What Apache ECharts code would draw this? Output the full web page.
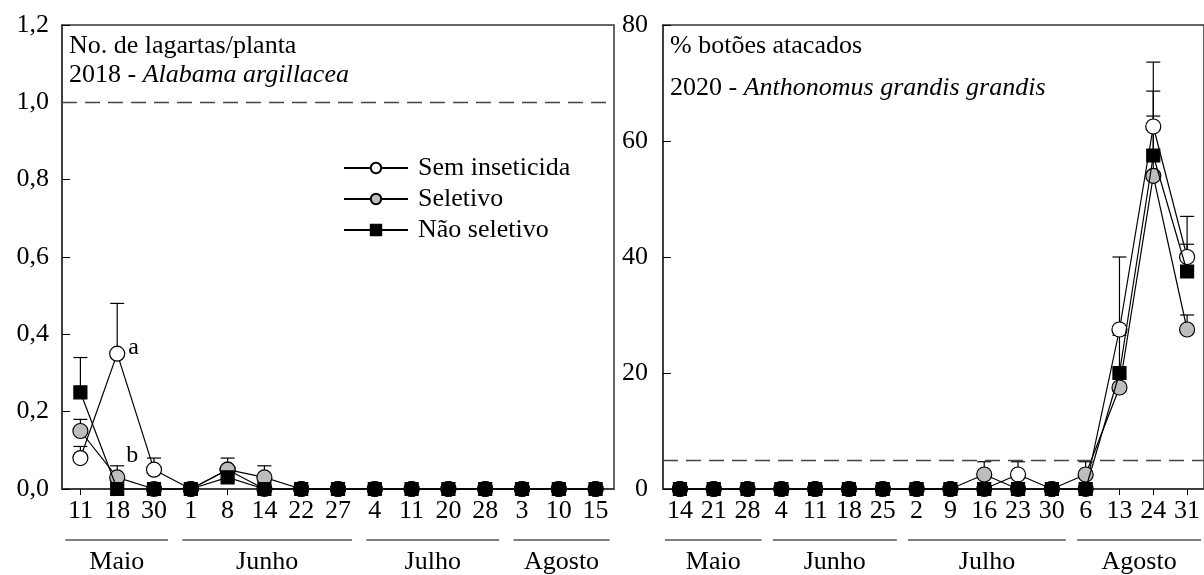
<!DOCTYPE html>
<html><head><meta charset="utf-8">
<script src="https://cdn.jsdelivr.net/npm/echarts@6/dist/echarts.min.js"></script>
<style>html,body{margin:0;padding:0;background:#fff}#c{width:1204px;height:575px}</style>
</head><body><div id="c"></div>
<script>
const FONT = '"Liberation Serif","Times New Roman",serif';
const FS = 26;

// ---- Left panel (2018 - Alabama argillacea) ----
const leftDays = ['11','18','30','1','8','14','22','27','4','11','20','28','3','10','15'];
const leftMonths = ['Maio','Junho','Julho','Agosto'];
const leftMonthSpans = [[0,2],[3,7],[8,11],[12,14]];
const leftSem = [0.08,0.35,0.05,0,0.05,0,0,0,0,0,0,0,0,0,0];
const leftSel = [0.15,0.03,0,0,0.05,0.03,0,0,0,0,0,0,0,0,0];
const leftNS  = [0.25,0,0,0,0.03,0,0,0,0,0,0,0,0,0,0];
const leftSemErr = [0.11,0.48,0.08,null,0.08,null,null,null,null,null,null,null,null,null,null];
const leftSelErr = [0.18,0.06,null,null,null,0.06,null,null,null,null,null,null,null,null,null];
const leftNSErr  = [0.34,null,null,null,null,null,null,null,null,null,null,null,null,null,null];
const leftTicks = ['0,0','0,2','0,4','0,6','0,8','1,0','1,2'];
const leftThreshold = 1.0;
const leftAnnot = {sem: {1: 'a'}, sel: {1: 'b'}};

// ---- Right panel (2020 - Anthonomus grandis grandis) ----
const rightDays = ['14','21','28','4','11','18','25','2','9','16','23','30','6','13','24','31'];
const rightMonths = ['Maio','Junho','Julho','Agosto'];
const rightMonthSpans = [[0,2],[3,6],[7,11],[12,15]];
const rightSem = [0,0,0,0,0,0,0,0,0,0,2.5,0,0,27.5,62.5,40];
const rightSel = [0,0,0,0,0,0,0,0,0,2.5,0,0,2.5,17.5,54,27.5];
const rightNS  = [0,0,0,0,0,0,0,0,0,0,0,0,0,20,57.5,37.5];
const rightSemErr = [null,null,null,null,null,null,null,null,null,null,4.7,null,null,40,73.6,47];
const rightSelErr = [null,null,null,null,null,null,null,null,null,4.7,null,null,4.7,null,64.3,30];
const rightNSErr  = [null,null,null,null,null,null,null,null,null,null,null,null,null,26.5,68.6,42.2];
const rightThreshold = 5;

const names = ['Sem inseticida','Seletivo','Não seletivo'];
const styles = [
  {symbol:'circle', symbolSize:15, color:'#ffffff'},
  {symbol:'circle', symbolSize:15, color:'#bdbdbd'},
  {symbol:'rect', symbolSize:13, color:'#000000'}
];

function errRender(params, api){
  const x = api.value(0), v = api.value(1), up = api.value(2);
  const p0 = api.coord([x, v]); const p1 = api.coord([x, up]);
  const hw = 7;
  return {type:'group', children:[
    {type:'line', shape:{x1:p0[0],y1:p0[1],x2:p1[0],y2:p1[1]}, style:{stroke:'#000', lineWidth:1.2}},
    {type:'line', shape:{x1:p1[0]-hw,y1:p1[1],x2:p1[0]+hw,y2:p1[1]}, style:{stroke:'#000', lineWidth:1.2}}
  ]};
}
function errData(vals, errs){
  const out = [];
  errs.forEach((e,i)=>{ if(e!==null) out.push([i, vals[i], e]); });
  return out;
}
function withAnnot(vals, annot){
  return vals.map((v,i)=> annot && annot[i] ? {value:v, label:{show:true, formatter:annot[i], position:'right',
    offset: annot[i]==='b' ? [-4,-22] : [-2,-6], fontFamily:FONT, fontSize:FS-2, color:'#000'}} : v);
}

function panelSeries(axisIdx, vals, errs, thr, annots){
  const s = [];
  vals.forEach((v,k)=>{
    s.push({type:'custom', name:'err'+axisIdx+k, xAxisIndex:axisIdx, yAxisIndex:axisIdx, renderItem:errRender,
      data: errData(v, errs[k]), encode:{x:0, y:[1,2]}, z:1, silent:true});
  });
  vals.forEach((v,k)=>{
    const st = styles[k];
    const ser = {type:'line', name:names[k], xAxisIndex:axisIdx, yAxisIndex:axisIdx,
      data: withAnnot(v, annots ? annots[k] : null), symbol:st.symbol, symbolSize:st.symbolSize,
      itemStyle:{color:st.color, borderColor:'#000', borderWidth:1.2, opacity:1},
      lineStyle:{color:'#000', width:1.2}, z:2 + k, clip:false};
    if(k===0){
      ser.markLine = {silent:true, symbol:'none', label:{show:false},
        lineStyle:{color:'#444', type:[15,8], width:1.3}, data:[{yAxis:thr}]};
    }
    s.push(ser);
  });
  return s;
}

const axisTextStyle = {fontFamily:FONT, fontSize:FS, color:'#000'};
function xAx(gi, days){
  return {type:'category', gridIndex:gi, data:days, boundaryGap:true,
    axisLine:{show:true, lineStyle:{color:'#333', width:1.5}},
    axisTick:{show:true, alignWithLabel:true, inside:false, length:6, lineStyle:{color:'#000'}},
    axisLabel:{interval:0, margin:9, ...axisTextStyle}, splitLine:{show:false}};
}
const titleStyle = {fontFamily:FONT, fontSize:FS, fontWeight:'normal', color:'#000'};
const richStyle = {rich:{n:{fontFamily:FONT, fontSize:FS, fontWeight:'normal', color:'#000'},
  i:{fontFamily:FONT, fontSize:FS, fontWeight:'normal', fontStyle:'italic', color:'#000'}}};

const chart = echarts.init(document.getElementById('c'), null, {renderer:'canvas'});
const option = {
  animation:false,
  backgroundColor:'#fff',
  title:[
    {left:69, top:33, padding:0, text:'No. de lagartas/planta', textStyle:titleStyle},
    {left:69, top:62, padding:0, text:'{n|2018 - }{i|Alabama argillacea}', textStyle:richStyle},
    {left:670, top:33, padding:0, text:'% botões atacados', textStyle:titleStyle},
    {left:670, top:75, padding:0, text:'{n|2020 - }{i|Anthonomus grandis grandis}', textStyle:richStyle}
  ],
  legend:{data:names, orient:'vertical', left:338, top:150, itemWidth:64, itemHeight:13, itemGap:5,
    textStyle:{fontFamily:FONT, fontSize:FS, color:'#000', padding:[0,0,0,5]}, selectedMode:false},
  grid:[
    {left:62, top:25, width:552, height:464, show:true, borderColor:'#333', borderWidth:1.5, backgroundColor:'transparent'},
    {left:663, top:25, width:557, height:464, show:true, borderColor:'#333', borderWidth:1.5, backgroundColor:'transparent'}
  ],
  xAxis:[xAx(0,leftDays), xAx(1,rightDays)],
  yAxis:[
    {type:'value', gridIndex:0, min:0, max:1.2, interval:0.2,
      axisLine:{show:true, lineStyle:{color:'#333', width:1.5}},
      axisTick:{show:true, inside:true, length:8, lineStyle:{color:'#000'}},
      axisLabel:{margin:13, ...axisTextStyle, formatter:(v)=>leftTicks[Math.round(v/0.2)]}, splitLine:{show:false}},
    {type:'value', gridIndex:1, min:0, max:80, interval:20,
      axisLine:{show:true, lineStyle:{color:'#333', width:1.5}},
      axisTick:{show:true, inside:true, length:8, lineStyle:{color:'#000'}},
      axisLabel:{margin:15, ...axisTextStyle}, splitLine:{show:false}}
  ],
  series:[
    ...panelSeries(0, [leftSem,leftSel,leftNS], [leftSemErr,leftSelErr,leftNSErr], leftThreshold, [leftAnnot.sem, leftAnnot.sel, null]),
    ...panelSeries(1, [rightSem,rightSel,rightNS], [rightSemErr,rightSelErr,rightNSErr], rightThreshold, null)
  ]
};
chart.setOption(option);

function monthGraphics(axisIdx, days, months, spans){
  const g = [];
  spans.forEach((sp,m)=>{
    const x0 = chart.convertToPixel({xAxisIndex:axisIdx}, sp[0]);
    const x1 = chart.convertToPixel({xAxisIndex:axisIdx}, sp[1]);
    const w0 = days[sp[0]].length*FS*0.5, w1 = days[sp[1]].length*FS*0.5;
    const a = x0 - w0/2 - 2, b = x1 + w1/2 + 1;
    g.push({type:'line', shape:{x1:a, y1:540, x2:b, y2:540}, style:{stroke:'#555', lineWidth:1.5}, silent:true});
    g.push({type:'text', x:(a+b)/2, y:562, style:{text:months[m], fontFamily:FONT, fontSize:FS, fill:'#000',
      textAlign:'center', textVerticalAlign:'middle'}, silent:true});
  });
  return g;
}
chart.setOption({graphic:[
  ...monthGraphics(0, leftDays, leftMonths, leftMonthSpans),
  ...monthGraphics(1, rightDays, rightMonths, rightMonthSpans)
]});
</script>
</body></html>
